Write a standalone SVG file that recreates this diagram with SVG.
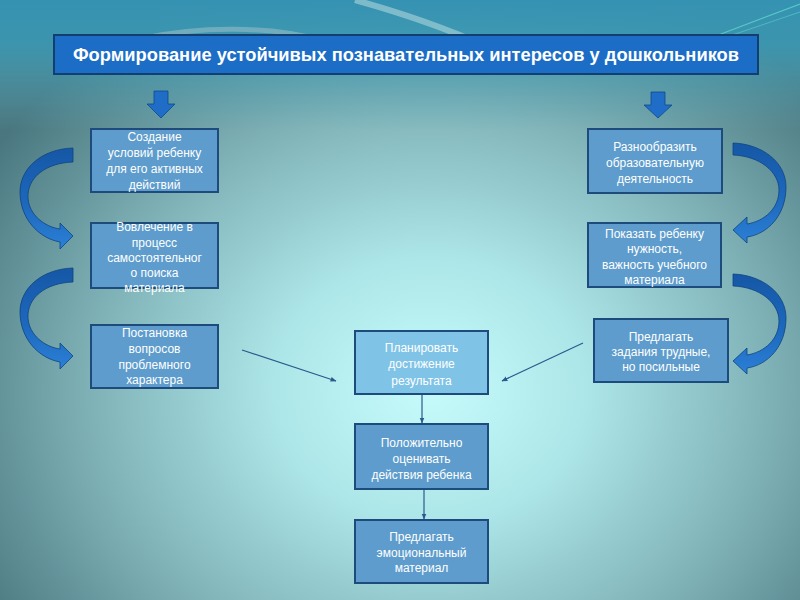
<svg xmlns="http://www.w3.org/2000/svg" width="800" height="600" viewBox="0 0 800 600">
<defs>
<radialGradient id="bg" cx="430" cy="390" r="520" gradientUnits="userSpaceOnUse" gradientTransform="translate(430 390) scale(1 0.85) translate(-430 -390)">
<stop offset="0" stop-color="#c6fbfb"/>
<stop offset="0.3" stop-color="#ade6e8"/>
<stop offset="0.65" stop-color="#7fb2b7"/>
<stop offset="1" stop-color="#4a777f"/>
</radialGradient>
<linearGradient id="topband" x1="0" y1="0" x2="0" y2="130" gradientUnits="userSpaceOnUse">
<stop offset="0" stop-color="#3592b2" stop-opacity="1"/>
<stop offset="0.35" stop-color="#3a9ab5" stop-opacity="0.85"/>
<stop offset="1" stop-color="#5aa8b8" stop-opacity="0"/>
</linearGradient>
<linearGradient id="curv" x1="0" y1="0" x2="0" y2="1">
<stop offset="0" stop-color="#1657a6"/>
<stop offset="0.55" stop-color="#1d68bd"/>
<stop offset="1" stop-color="#2b80d6"/>
</linearGradient>
<marker id="ah" viewBox="0 0 10 10" refX="9" refY="5" markerWidth="6" markerHeight="6" orient="auto-start-reverse" markerUnits="userSpaceOnUse">
<path d="M0,1 L10,5 L0,9 Z" fill="#2a5a8c"/>
</marker>
<style>
.box{fill:#5d9ccc;stroke:#1d4c7c;stroke-width:2}
.boxl{fill:#7fc3e7;stroke:#1d4c7c;stroke-width:2}
.t{font-family:"Liberation Sans",Arial,sans-serif;font-size:12px;fill:#ffffff;text-anchor:middle}
.title{font-family:"Liberation Sans",Arial,sans-serif;font-size:18.5px;font-weight:bold;fill:#ffffff;text-anchor:middle}
.conn{stroke:#2a5a8c;stroke-width:1.2;fill:none}
.darr{fill:#1f6dc6;stroke:#0f4a8c;stroke-width:0.8}
.carr{fill:url(#curv);stroke:#0e447f;stroke-width:0.8}
</style>
</defs>

<g id="background">
<rect x="0" y="0" width="800" height="600" fill="url(#bg)"/>
<rect x="0" y="0" width="800" height="130" fill="url(#topband)"/>
<path d="M355,0 C420,18 470,38 505,55" stroke="#b8dde0" stroke-width="6" fill="none" opacity="0.55"/>
<path d="M145,38 C200,26 270,26 320,40" stroke="#b0c8cc" stroke-width="5" fill="none" opacity="0.45"/>
<path d="M700,42 L800,4" stroke="#5fe0d0" stroke-width="1.2" opacity="0.7"/>
<path d="M706,44 L800,12" stroke="#5fe0d0" stroke-width="1" opacity="0.5"/>
</g>

<g id="title">
<rect x="54" y="35" width="704" height="39" fill="#1c6dc6" stroke="#123e70" stroke-width="2"/>
<text class="title" x="406" y="61" textLength="666" lengthAdjust="spacingAndGlyphs">Формирование устойчивых познавательных интересов у дошкольников</text>
</g>

<g id="down-arrows">
<path class="darr" d="M154,91 L168,91 L168,104 L175,104 L161,118 L147,104 L154,104 Z"/>
<path class="darr" d="M651,92 L665,92 L665,105 L672,105 L658,118 L644,105 L651,105 Z"/>
</g>

<g id="curved-arrows">
<path class="carr" d="M73,148 C42,149 20,168 20,192 C20,218 38,238 60,242 L60,249 L73,236 L60,223 L60,229 C45,227 29,215 28,198 C27,178 45,163 73,162 Z"/>
<path class="carr" transform="translate(0,120)" d="M73,148 C42,149 20,168 20,192 C20,218 38,238 60,242 L60,249 L73,236 L60,223 L60,229 C45,227 29,215 28,198 C27,178 45,163 73,162 Z"/>
<path class="carr" d="M733,143 C762,144 786,162 786,187 C786,215 768,234 747,237 L747,243 L733,230 L747,217 L747,224 C765,221 779,208 779,190 C779,172 760,156 733,155 Z"/>
<path class="carr" transform="translate(0,131)" d="M733,143 C762,144 786,162 786,187 C786,215 768,234 747,237 L747,243 L733,230 L747,217 L747,224 C765,221 779,208 779,190 C779,172 760,156 733,155 Z"/>
</g>

<g id="connectors">
<line class="conn" x1="242" y1="350" x2="336" y2="381" marker-end="url(#ah)"/>
<line class="conn" x1="583" y1="343" x2="502" y2="381" marker-end="url(#ah)"/>
<line class="conn" x1="422" y1="395" x2="422" y2="423" marker-end="url(#ah)"/>
<line class="conn" x1="424" y1="490" x2="424" y2="519" marker-end="url(#ah)"/>
</g>

<g id="node-l1">
<rect class="box" x="91" y="129" width="127" height="63"/>
<text class="t" x="154.5" y="141">Создание</text>
<text class="t" x="154.5" y="157">условий ребенку</text>
<text class="t" x="154.5" y="173">для его активных</text>
<text class="t" x="154.5" y="189">действий</text>
</g>
<g id="node-l2">
<rect class="box" x="91" y="223" width="127" height="65"/>
<text class="t" x="154.5" y="231">Вовлечение в</text>
<text class="t" x="154.5" y="247">процесс</text>
<text class="t" x="154.5" y="262">самостоятельног</text>
<text class="t" x="154.5" y="277">о поиска</text>
<text class="t" x="154.5" y="292">материала</text>
</g>
<g id="node-l3">
<rect class="box" x="91" y="325" width="127" height="63"/>
<text class="t" x="154.5" y="337">Постановка</text>
<text class="t" x="154.5" y="353">вопросов</text>
<text class="t" x="154.5" y="369">проблемного</text>
<text class="t" x="154.5" y="384">характера</text>
</g>

<g id="node-r1">
<rect class="box" x="588" y="129" width="134" height="64"/>
<text class="t" x="655" y="151">Разнообразить</text>
<text class="t" x="655" y="167">образовательную</text>
<text class="t" x="655" y="183">деятельность</text>
</g>
<g id="node-r2">
<rect class="box" x="588" y="223" width="133" height="64"/>
<text class="t" x="654.5" y="238">Показать ребенку</text>
<text class="t" x="654.5" y="253">нужность,</text>
<text class="t" x="654.5" y="269">важность учебного</text>
<text class="t" x="654.5" y="284">материала</text>
</g>
<g id="node-r3">
<rect class="box" x="594" y="319" width="134" height="63"/>
<text class="t" x="661" y="341">Предлагать</text>
<text class="t" x="661" y="356">задания трудные,</text>
<text class="t" x="661" y="371">но посильные</text>
</g>

<g id="node-c1">
<rect class="boxl" x="355" y="331" width="133" height="63"/>
<text class="t" x="421.5" y="352">Планировать</text>
<text class="t" x="421.5" y="368">достижение</text>
<text class="t" x="421.5" y="385">результата</text>
</g>
<g id="node-c2">
<rect class="box" x="355" y="424" width="133" height="65"/>
<text class="t" x="421.5" y="447">Положительно</text>
<text class="t" x="421.5" y="463">оценивать</text>
<text class="t" x="421.5" y="479">действия ребенка</text>
</g>
<g id="node-c3">
<rect class="box" x="355" y="520" width="133" height="63"/>
<text class="t" x="421.5" y="541">Предлагать</text>
<text class="t" x="421.5" y="557">эмоциональный</text>
<text class="t" x="421.5" y="572">материал</text>
</g>
</svg>
